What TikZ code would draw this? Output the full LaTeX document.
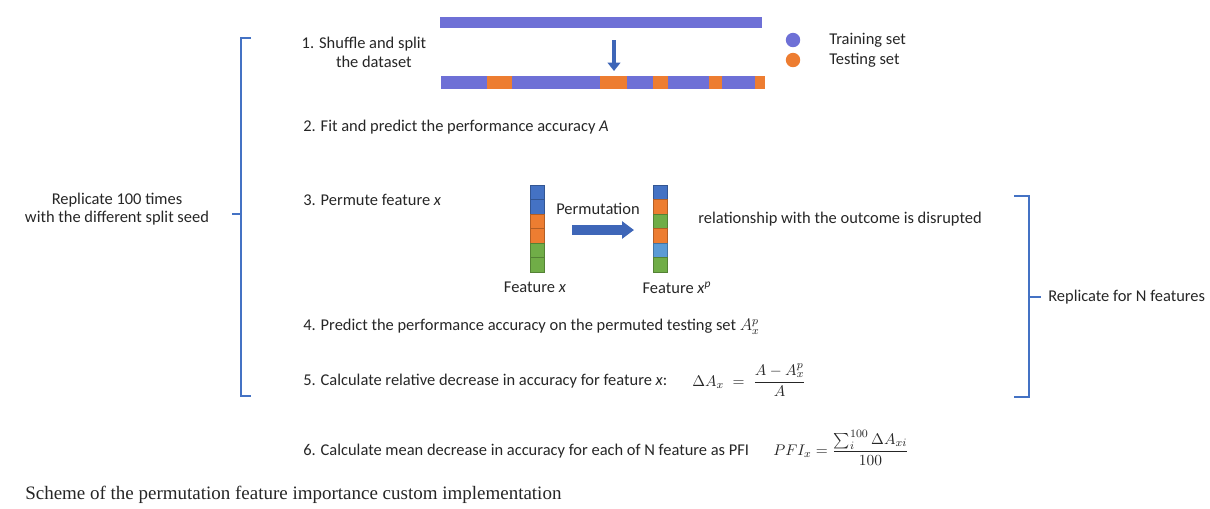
\documentclass[tikz,border=0pt]{standalone}
\usepackage{amsmath}
\usepackage{fontspec}
\setmainfont{Carlito}
\newfontfamily\captionfont{Liberation Serif}
\usetikzlibrary{arrows.meta,positioning}
\definecolor{trainColor}{HTML}{6E70D6}
\definecolor{testColor}{HTML}{ED7D31}
\definecolor{braceColor}{HTML}{4472C4}
\definecolor{arrowColor}{HTML}{3E66B8}
\definecolor{cellBlue}{HTML}{4472C4}
\definecolor{cellOrange}{HTML}{ED7D31}
\definecolor{cellGreen}{HTML}{70AD47}
\definecolor{cellSky}{HTML}{5B9BD5}
\definecolor{txtColor}{HTML}{262626}
\tikzset{
  every node/.style={text=txtColor,font=\fontsize{11.7}{13.4}\selectfont},
  steptext/.style={anchor=west,inner sep=0pt},
  cell/.style={minimum width=0.35cm,minimum height=0.3625cm,inner sep=0pt,draw=#1!75!black,fill=#1,line width=0.4pt},
  dot/.style={circle,minimum size=0.36cm,inner sep=0pt,fill=#1},
  brace/.style={braceColor,line width=2pt},
  downarrow/.style={arrowColor,line width=3.5pt,-{Triangle[width=9pt,length=6pt]}},
  blockarrow/.style={arrowColor,line width=6.5pt,-{Triangle[width=12pt,length=8.5pt]}},
  mathtext/.style={anchor=west,inner sep=0pt,font=\fontsize{11}{13}\selectfont}
}

\begin{document}
\begin{tikzpicture}[x=0.025cm,y=-0.025cm]
\useasboundingbox (0,0) rectangle (1210,508);

\node[fill=trainColor,minimum width=8.05cm,minimum height=0.28cm,inner sep=0pt] (fullset) at (601,22.5) {};
\foreach \a/\b/\c in {441/487/trainColor,487/512/testColor,512/600/trainColor,600/627/testColor,627/653/trainColor,653/668/testColor,668/709/trainColor,709/722/testColor,722/755/trainColor,755/765/testColor}
  \fill[\c] (\a,76) rectangle (\b,89);
\coordinate (arrtop) at (614,40);
\coordinate (arrbot) at (614,71);
\draw[downarrow] (arrtop) -- (arrbot);

\node[dot=trainColor] (dtrain) at (793,40) {};
\node[dot=testColor] (dtest) at (793,60) {};
\node[steptext] (ltrain) at (829,40) {Training set};
\node[steptext] (ltest) at (829,60) {Testing set};

\node[align=center,inner sep=0pt,font=\fontsize{11.7}{13.5}\selectfont] (step1) at (364,52) {1. Shuffle and split\\\hspace*{1.2em}the dataset};
\node[steptext] (step2) at (303,127) {2. Fit and predict the performance accuracy \textit{A}};
\node[steptext] (step3) at (303,200) {3. Permute feature \textit{x}};

\foreach \c [count=\i] in {cellBlue,cellBlue,cellOrange,cellOrange,cellGreen,cellGreen}
  \node[cell=\c] (fx\i) at (537,{185+14.5*(\i-0.5)}) {};
\foreach \c [count=\i] in {cellBlue,cellOrange,cellGreen,cellOrange,cellSky,cellGreen}
  \node[cell=\c] (fp\i) at (660,{185+14.5*(\i-0.5)}) {};
\coordinate (pstart) at (572,230);
\coordinate (pend) at (634,230);
\draw[blockarrow] (pstart) -- (pend);
\node (perm) at (598,209) {Permutation};
\node (featx) at (535,287) {Feature \textit{x}};
\node (featp) at (677,288) {Feature \textit{x}\textsuperscript{\textit{p}}};
\node[steptext] (disrupt) at (698,219) {relationship with the outcome is disrupted};

\node[steptext] (step4) at (303,327) {4. Predict the performance accuracy on the permuted testing set $A_x^p$};
\node[steptext] (step5) at (303,381) {5. Calculate relative decrease in accuracy for feature \textit{x}:};
\node[mathtext] (deltaA) at (692,380) {$\Delta A_x \;=\; \dfrac{A-A_x^p}{A}$};
\node[steptext] (step6) at (303,451) {6. Calculate mean decrease in accuracy for each of N feature as PFI};
\node[mathtext] (pfi) at (773,448) {$PFI_x = \dfrac{\sum_i^{100}\Delta A_{xi}}{100}$};

\draw[brace] (251,38) -- (241,38) -- (241,396) -- (251,396);
\draw[brace] (241,214) -- (232,214);
\node[align=center,font=\fontsize{11.7}{12.9}\selectfont] (rep100) at (117,209) {Replicate 100 times\\with the different split seed};

\draw[brace] (1014,196) -- (1029,196) -- (1029,397) -- (1014,397);
\draw[brace] (1029,297) -- (1041,297);
\node[steptext] (repN) at (1048,297) {Replicate for N features};

\node[anchor=west,inner sep=0pt,text=black!85,font=\captionfont\fontsize{13.5}{15}\selectfont] (caption) at (25,495) {Scheme of the permutation feature importance custom implementation};
\end{tikzpicture}
\end{document}
